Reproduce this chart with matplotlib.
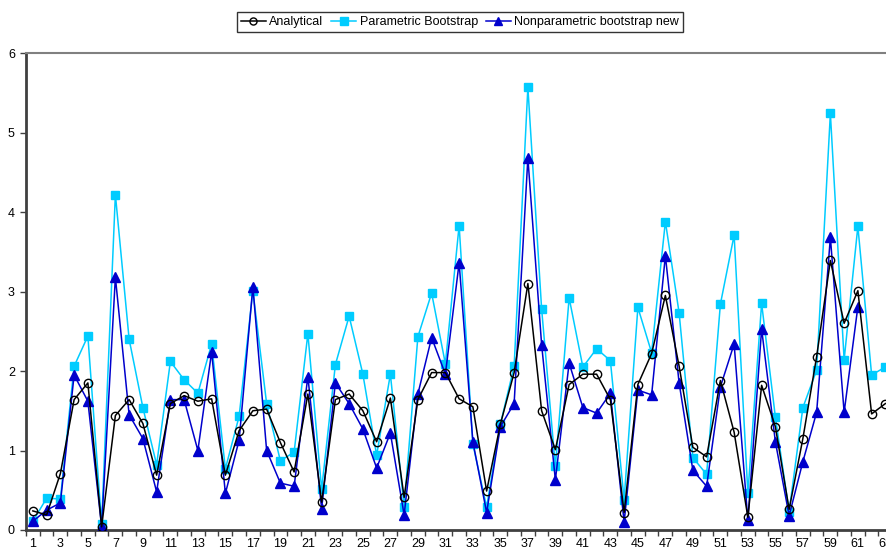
import matplotlib
matplotlib.use("Agg")
from matplotlib import pyplot as plt
import numpy as np

plt.rcParams['font.family'] = ['Liberation Sans', 'DejaVu Sans']

# data (categories 1..63, nonparametric ends at 61)
analytical = [0.24, 0.19, 0.71, 1.64, 1.85, 0.04, 1.44, 1.64, 1.34, 0.69,
              1.59, 1.69, 1.62, 1.65, 0.69, 1.25, 1.50, 1.52, 1.10, 0.73,
              1.71, 0.35, 1.64, 1.71, 1.50, 1.11, 1.66, 0.41, 1.64, 1.98,
              1.98, 1.65, 1.55, 0.49, 1.33, 1.98, 3.10, 1.50, 1.01, 1.83,
              1.96, 1.96, 1.64, 0.22, 1.83, 2.22, 2.95, 2.06, 1.04, 0.92,
              1.88, 1.23, 0.16, 1.82, 1.30, 0.26, 1.15, 2.18, 3.39, 2.60,
              3.01, 1.46, 1.59]
parametric = [0.11, 0.40, 0.39, 2.06, 2.44, 0.08, 4.22, 2.40, 1.54, 0.82,
              2.12, 1.89, 1.72, 2.34, 0.77, 1.43, 3.01, 1.59, 0.87, 0.98,
              2.47, 0.51, 2.08, 2.69, 1.96, 0.94, 1.96, 0.29, 2.43, 2.98,
              2.09, 3.83, 1.08, 0.29, 1.33, 2.06, 5.57, 2.78, 0.80, 2.92,
              2.05, 2.28, 2.13, 0.38, 2.80, 2.23, 3.88, 2.73, 0.91, 0.70,
              2.84, 3.71, 0.46, 2.85, 1.42, 0.23, 1.54, 2.01, 5.24, 2.14,
              3.82, 1.95, 2.05]
nonparametric = [0.11, 0.25, 0.34, 1.95, 1.62, 0.04, 3.18, 1.45, 1.15, 0.48,
                 1.64, 1.64, 1.00, 2.24, 0.46, 1.13, 3.06, 1.00, 0.59, 0.55,
                 1.93, 0.27, 1.85, 1.59, 1.27, 0.78, 1.22, 0.19, 1.71, 2.42,
                 1.96, 3.36, 1.11, 0.22, 1.30, 1.59, 4.68, 2.33, 0.63, 2.10,
                 1.54, 1.47, 1.72, 0.10, 1.76, 1.70, 3.45, 1.85, 0.75, 0.55,
                 1.80, 2.34, 0.12, 2.53, 1.11, 0.18, 0.86, 1.48, 3.68, 1.48,
                 2.81]

x_a = np.arange(1, len(analytical) + 1)
x_p = np.arange(1, len(parametric) + 1)
x_n = np.arange(1, len(nonparametric) + 1)
n_cat = 64

fig = plt.figure(figsize=(8.86, 5.52), dpi=100)
# plot area runs past the right edge, as in the cropped original
ax = fig.add_axes([26 / 886, 22 / 552, n_cat * 13.75 / 886, 477 / 552])

ax.plot(x_p, parametric, color='#00CCFF', lw=1.1, marker='s', ms=6,
        mec='#00CCFF', mfc='#00CCFF', label='Parametric Bootstrap', zorder=2)
ax.plot(x_n, nonparametric, color='#0000CC', lw=1.1, marker='^', ms=6.5,
        mec='#0000CC', mfc='#0000CC', label='Nonparametric bootstrap new', zorder=3)
ax.plot(x_a, analytical, color='black', lw=1.1, marker='o', ms=6,
        mec='black', mfc='none', label='Analytical', zorder=4)

ax.set_xlim(0.5, n_cat + 0.5)
ax.set_ylim(0, 6)

# category axis: tick marks between categories, labels on odd categories
ax.set_xticks(np.arange(0.5, n_cat + 1, 1))
ax.set_xticklabels([])
ax.tick_params(axis='x', which='major', direction='out', length=4, width=1, color='#404040')
ax.set_xticks(np.arange(1, n_cat + 1, 2), minor=True)
ax.set_xticklabels([str(i) for i in range(1, n_cat + 1, 2)], minor=True)
ax.tick_params(axis='x', which='minor', length=0, labelsize=9, pad=6)

ax.set_yticks(range(0, 7))
ax.tick_params(axis='y', direction='out', length=4, width=1, color='#404040', labelsize=9, pad=4)

for side in ['left', 'bottom']:
    ax.spines[side].set_color('#404040')
    ax.spines[side].set_linewidth(2)
ax.spines['top'].set_color('#808080')
ax.spines['top'].set_linewidth(1.5)
ax.spines['right'].set_visible(False)

handles, labels = ax.get_legend_handles_labels()
order = [2, 0, 1]
leg = fig.legend([handles[i] for i in order], [labels[i] for i in order],
                 loc='center', bbox_to_anchor=(0.519, 0.96), ncol=3,
                 fontsize=9, frameon=True, fancybox=False, handlelength=2.0,
                 handletextpad=0.3, columnspacing=0.6, borderpad=0.3,
                 markerscale=0.85, edgecolor='black')
leg.get_frame().set_linewidth(1)

fig.savefig('out.png', dpi=100)
